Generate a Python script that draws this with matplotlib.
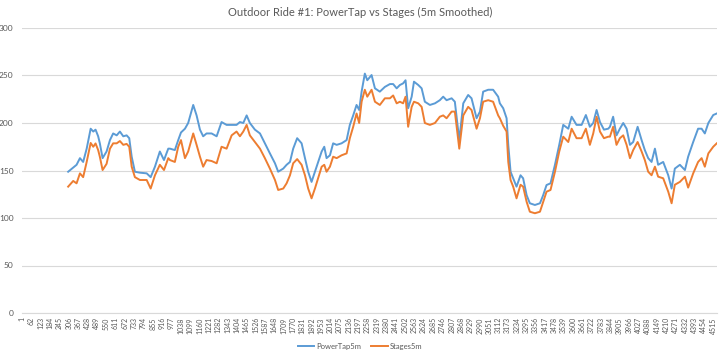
import matplotlib
matplotlib.use("Agg")
import matplotlib.pyplot as plt

# ---- data ----
sample = [302, 335, 357, 379, 400, 423, 449, 466, 481, 498, 509, 527, 553, 575, 596, 619, 640, 662,
          684, 701, 717, 738, 771, 815, 841, 869, 901, 928, 956, 967, 999, 1021, 1039, 1065, 1086,
          1119, 1141, 1163, 1184, 1206, 1239, 1272, 1304, 1337, 1370, 1402, 1424, 1446, 1468, 1489,
          1522, 1555, 1587, 1620, 1653, 1674, 1707, 1729, 1751, 1772, 1798, 1827, 1849, 1870, 1892,
          1914, 1935, 1958, 1975, 1990, 2012, 2033, 2056, 2088, 2121, 2142, 2164, 2186, 2203, 2219,
          2240, 2256, 2284, 2306, 2338, 2371, 2404, 2425, 2448, 2469, 2490, 2506, 2523, 2546, 2561,
          2589, 2611, 2632, 2665, 2698, 2730, 2752, 2774, 2807, 2828, 2857, 2883, 2915, 2937, 2970,
          2992, 3013, 3046, 3078, 3111, 3122, 3144, 3166, 3177, 3192, 3209, 3231, 3257, 3274, 3297,
          3318, 3351, 3384, 3405, 3427, 3453, 3482, 3510, 3536, 3569, 3591, 3623, 3656, 3684, 3710,
          3732, 3754, 3776, 3802, 3830, 3841, 3862, 3884, 3906, 3928, 3950, 3972, 3993, 4022, 4048,
          4069, 4091, 4113, 4135, 4156, 4189, 4222, 4244, 4265, 4298, 4331, 4352, 4385, 4417, 4440,
          4461, 4484, 4516, 4539]

powertap5m = [148.7, 153, 156, 163, 159, 173, 194, 191, 193, 186, 178.6, 163, 170, 182, 189, 187, 191, 186,
              187, 184, 164.5, 148.7, 147.7, 147, 143, 154, 170, 161, 173, 173, 171.5, 182, 190, 194, 200,
              219, 208, 193, 186, 189, 189, 186, 201, 198, 198, 198, 201, 200, 208, 200,
              193, 189, 178.6, 168, 157.6, 148.7, 152, 156, 159, 173, 184, 178.6, 163, 148.7, 138,
              148.7, 159, 170, 175, 163, 166, 178.6, 177, 178.6, 182, 198, 208, 219, 213.7, 233,
              252, 245, 250.5, 236.5, 233, 238, 241, 241, 236.5, 240, 241.7, 245, 215.5, 227.7, 243.5,
              240, 236.5, 222.4, 219, 220.7, 224, 227.7, 224, 226, 222.4, 182, 220.7, 229.5, 226, 205,
              212, 233, 235, 235, 227.7, 220.7, 215.5, 205, 177, 148.7, 141.8, 133, 145, 141.8, 124,
              115.5, 113.7, 115.5, 124, 134.7, 136.5, 156, 177, 198, 194, 206.6, 198, 198, 208.4, 196,
              200, 213.7, 201, 193, 194, 196, 206.6, 187, 194, 200, 194, 177, 180, 196, 182,
              171.5, 163, 159, 173, 156, 159, 145, 131, 152, 156, 150.5, 164.5, 180, 194, 194,
              189, 200, 208.4, 210]

stages5m = [133, 139, 136.5, 147, 143, 159, 179, 175, 178.5, 171.5, 164.5, 150.5, 157, 173, 178.6, 178.6, 181, 177,
            178, 175, 154, 143, 140, 140, 131, 145, 156, 150.5, 163, 161, 159, 175, 182, 163, 170,
            189, 177, 164.5, 154, 161, 160, 157.6, 175, 173, 187, 191, 186, 191, 198, 187,
            180, 173, 163, 152, 140, 129.5, 131, 136.5, 145, 157.6, 162, 156, 145, 131, 120.7,
            131, 141.8, 154, 156, 148.7, 154, 164.5, 163, 166, 168, 184, 196, 210, 200, 222.4,
            235, 227.7, 235, 222.4, 219, 226, 226, 229, 220.7, 222.4, 220.7, 227.7, 196, 217, 222.4,
            220.7, 217, 200, 198, 200, 206.6, 208, 205, 212, 212, 173, 208, 217, 213.7, 194,
            205, 222.4, 224, 222.4, 208, 205, 197, 191, 159, 140, 133, 120.7, 135, 133, 117,
            106.6, 105, 106.6, 117, 127.7, 129.5, 148.7, 170, 185.6, 180, 194, 184, 184, 194, 177,
            189, 206.6, 191, 184, 185.6, 185.6, 196, 177, 184, 187, 177, 163, 171.5, 180, 170,
            161, 148.7, 145, 154, 143.5, 141.8, 127.7, 115.5, 135, 138, 143.5, 132, 147, 159, 163,
            154, 168, 175, 178.6]

n_categories = 4540
tick_labels = [str(v) for v in range(1, 4516, 61)]
y_ticks = [0, 50, 100, 150, 200, 250, 300]

title = "Outdoor Ride #1: PowerTap vs Stages (5m Smoothed)"
blue = "#5B9BD5"
orange = "#ED7D31"
text_gray = "#595959"
grid_gray = "#D9D9D9"

plt.rcParams['font.family'] = ['Lato', 'DejaVu Sans']

fig = plt.figure(figsize=(7.2, 3.53), dpi=100)
ax = fig.add_axes([22 / 720, 40 / 353, 695 / 720, 285 / 353])

ax.plot(sample, powertap5m, color=blue, lw=1.4, label="PowerTap5m", solid_joinstyle="round")
ax.plot(sample, stages5m, color=orange, lw=1.4, label="Stages5m", solid_joinstyle="round")

ax.set_xlim(0.5, n_categories + 0.5)
ax.set_ylim(0, 300)
ax.set_yticks(y_ticks)
ax.set_yticklabels([str(v) for v in y_ticks], fontsize=6, color=text_gray)
ax.set_xticks(list(range(1, 4516, 61)))
ax.set_xticklabels(tick_labels, rotation=90, fontsize=5, color=text_gray)
ax.tick_params(axis='both', length=0, pad=3)
ax.tick_params(axis='y', pad=6)
ax.grid(axis='y', color=grid_gray, lw=0.8)
ax.set_axisbelow(True)
for s in ['top', 'right', 'left']:
    ax.spines[s].set_visible(False)
ax.spines['bottom'].set_color(grid_gray)
ax.spines['bottom'].set_linewidth(0.8)

fig.text(0.5, 1 - 12 / 353, title, ha='center', va='center', fontsize=8, color=text_gray)

fig.legend(loc='center', bbox_to_anchor=(0.5, 1 - 346 / 353), ncol=2, frameon=False,
           fontsize=5.5, handlelength=2.2, columnspacing=1.2, handletextpad=0.3,
           labelcolor=text_gray)

fig.savefig("out.png", dpi=100)
